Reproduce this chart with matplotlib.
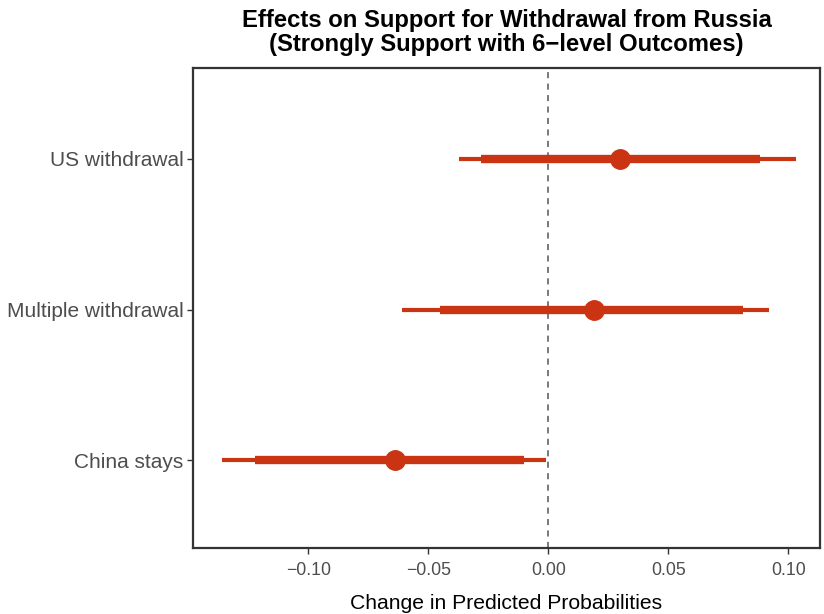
import matplotlib
matplotlib.use("Agg")
import matplotlib.pyplot as plt

categories = ["US withdrawal", "Multiple withdrawal", "China stays"]
estimates = [0.030, 0.019, -0.064]
ci95_low = [-0.037, -0.061, -0.136]
ci95_high = [0.103, 0.092, -0.001]
ci90_low = [-0.028, -0.045, -0.122]
ci90_high = [0.088, 0.081, -0.010]
xticks = [-0.10, -0.05, 0.00, 0.05, 0.10]
xticklabels = ["\u22120.10", "\u22120.05", "0.00", "0.05", "0.10"]

plt.rcParams['font.family'] = ['Liberation Sans', 'DejaVu Sans']
color = '#CB3413'

fig = plt.figure(figsize=(8.24, 6.14), dpi=100)
ax = fig.add_axes([193/824, 1-548/614, (820-193)/824, (548-68)/614])

ypos = [3, 2, 1]
ax.axvline(0, color='#555555', lw=1.1, ls=(0, (4, 3.5)), zorder=1)
for y, e, l95, h95, l90, h90 in zip(ypos, estimates, ci95_low, ci95_high, ci90_low, ci90_high):
    ax.plot([l95, h95], [y, y], color=color, lw=3, solid_capstyle='butt', zorder=2)
    ax.plot([l90, h90], [y, y], color=color, lw=6, solid_capstyle='butt', zorder=3)
    ax.plot([e], [y], 'o', color=color, ms=14, zorder=4)

ax.set_xlim(-0.148, 0.1132)
ax.set_ylim(0.42, 3.6)
ax.set_yticks(ypos)
ax.set_yticklabels(categories, fontsize=15, color='#4D4D4D')
ax.set_xticks(xticks)
ax.set_xticklabels(xticklabels, fontsize=12.7, color='#4D4D4D')
for s in ax.spines.values():
    s.set_linewidth(1.6)
    s.set_color('#333333')
ax.tick_params(axis='both', length=4, width=1.0, color='#333333')
ax.tick_params(axis='y', pad=3)
ax.tick_params(axis='x', pad=6)
ax.set_xlabel("Change in Predicted Probabilities", fontsize=15.2, labelpad=11)
ax.set_title("Effects on Support for Withdrawal from Russia\n(Strongly Support with 6\u2212level Outcomes)",
             fontsize=17.2, fontweight='bold', pad=12, linespacing=1.05)
fig.savefig("out.png", dpi=100, facecolor='white')
